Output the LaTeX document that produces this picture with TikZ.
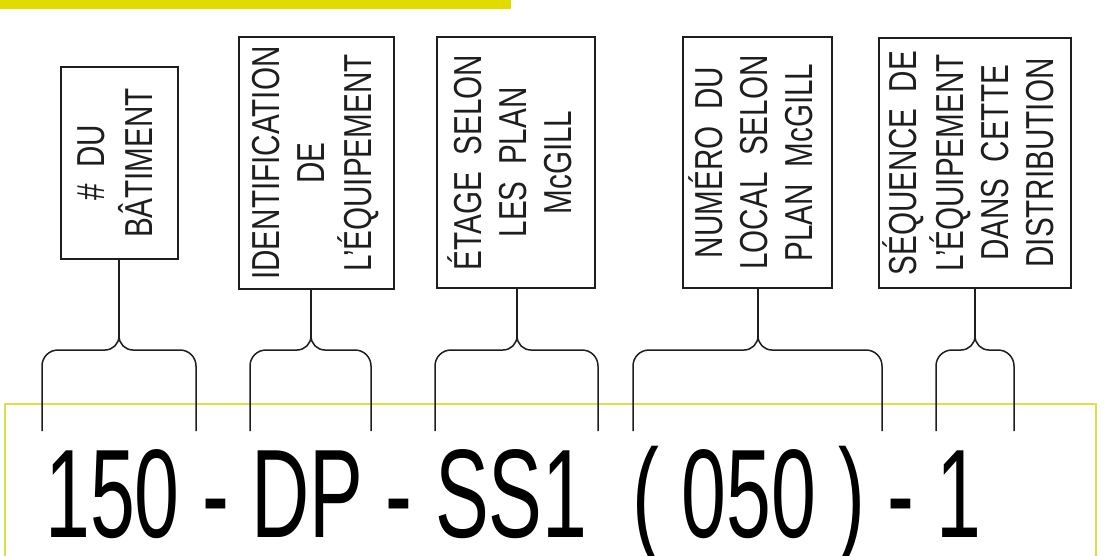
\documentclass[tikz,border=0pt]{standalone}
\usepackage{fontspec}
\usepackage{graphicx}
\setmainfont{Liberation Sans}
\newfontfamily\cadfont[FakeStretch=0.76]{Liberation Sans}
\newfontfamily\codefont[FakeStretch=0.64]{Liberation Sans}
\usetikzlibrary{calc}
\definecolor{mcjaune}{HTML}{E0DC00}
\definecolor{mcligne}{HTML}{DEDE48}
\definecolor{mcnoir}{HTML}{1E1E1E}
\newcommand{\vtxt}[1]{\rotatebox{90}{\begin{tabular}{@{}c@{}}#1\end{tabular}}}
\newcommand{\accolade}[4]{%
  \coordinate (#4) at (#2,336);
  \draw[trait] (#1,431) -- (#1,366) to[out=90,in=180] (#1+16,350) -- (#2-14,350)
    to[out=0,in=-90] (#4) to[out=-90,in=180] (#2+14,350) -- (#3-16,350)
    to[out=0,in=90] (#3,366) -- (#3,431);}
\tikzset{
  boite/.style = {rectangle, draw=mcnoir, line width=1.5pt, inner sep=0pt, text=mcnoir,
                  font=\cadfont\fontsize{39}{45}\selectfont},
  trait/.style = {draw=mcnoir, line width=1.5pt},
  code/.style  = {font=\codefont\fontsize{126}{130}\selectfont, inner sep=0pt,
                  anchor=base west, text=black},
}
\begin{document}
\begin{tikzpicture}[x=1pt,y=-1pt]
\useasboundingbox (0,0) rectangle (1106,555);
\clip (0,0) rectangle (1106,555);
\fill[mcjaune] (0,0) rectangle (511,9);
\draw[mcligne, line width=1.8pt] (5,570) -- (5,404) -- (1096,404) -- (1096,570);

\node[boite, minimum width=117pt, minimum height=192pt] (bat)   at (119.5,163) {\vtxt{\#~~DU\\BÂTIMENT}};
\node[boite, minimum width=155pt, minimum height=252pt] (equip) at (316.5,163) {\vtxt{IDENTIFICATION\\DE\\L’ÉQUIPEMENT}};
\node[boite, minimum width=158pt, minimum height=251pt] (etage) at (516,162.5) {\vtxt{ÉTAGE~ SELON\\LES~ PLAN\\McGILL}};
\node[boite, minimum width=149pt, minimum height=251pt] (local) at (757.5,162.5) {\vtxt{NUMÉRO~ DU\\LOCAL~ SELON\\PLAN~ McGILL}};
\node[boite, minimum width=192pt, minimum height=250pt] (seq)   at (975,163) {\vtxt{SÉQUENCE~ DE\\L’ÉQUIPEMENT\\DANS~ CETTE\\DISTRIBUTION}};

\accolade{42}{119}{196}{p1}
\accolade{250}{311}{371}{p2}
\accolade{435}{517}{598}{p3}
\accolade{633}{758}{882}{p4}
\accolade{936}{975}{1014}{p5}

\draw[trait] (p1 |- bat.south)   -- (p1);
\draw[trait] (p2 |- equip.south) -- (p2);
\draw[trait] (p3 |- etage.south) -- (p3);
\draw[trait] (p4 |- local.south) -- (p4);
\draw[trait] (p5 |- seq.south)   -- (p5);

\node[code] (ref) at (45,537) {150 - DP - SS1~ ( 050 ) - 1};
\end{tikzpicture}
\end{document}
